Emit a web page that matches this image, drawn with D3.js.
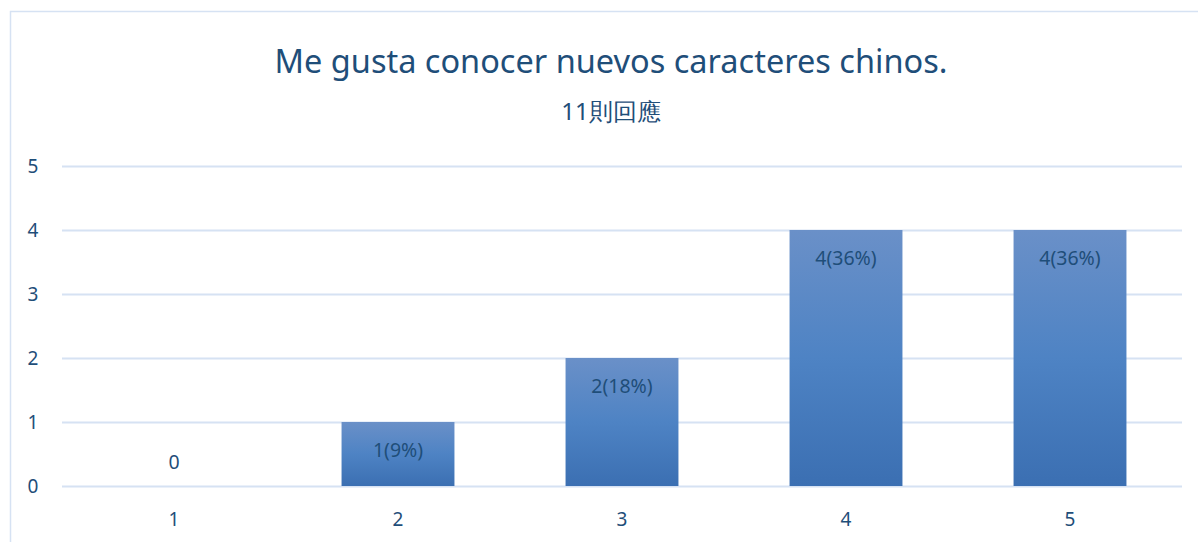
<!DOCTYPE html>
<html><head><meta charset="utf-8">
<script src="https://cdn.jsdelivr.net/npm/d3@7/dist/d3.min.js"></script>
<style>body{margin:0;background:#fff}svg{display:block}text{font-family:"Noto Sans","Open Sans",sans-serif}</style>
</head><body>
<svg id="c" width="1198" height="542"></svg>
<script>
const categories = ["1","2","3","4","5"];
const counts = [0,1,2,4,4];
const labels = ["0","1(9%)","2(18%)","4(36%)","4(36%)"];
const yTicks = [0,1,2,3,4,5];
const title = "Me gusta conocer nuevos caracteres chinos.";
const subtitle = "11則回應";

const svg = d3.select("#c");
const textColor = "#1f4e79";
const defs = svg.append("defs");
const g = defs.append("linearGradient").attr("id","bg").attr("x1",0).attr("y1",0).attr("x2",0).attr("y2",1);
g.append("stop").attr("offset","0%").attr("stop-color","#6a90c8");
g.append("stop").attr("offset","50%").attr("stop-color","#4e83c4");
g.append("stop").attr("offset","100%").attr("stop-color","#3b6fb2");

svg.append("path").attr("d","M10.5,542 V11.5 H1198").attr("fill","none").attr("stroke","#d6e2f3").attr("stroke-width",1.5);

const x = d3.scaleBand().domain(categories).range([62,1182]).paddingInner(0.496).paddingOuter(0.248);
const y = d3.scaleLinear().domain([0,5]).range([486,166]);

svg.append("text").attr("x",611).attr("y",73).attr("text-anchor","middle").attr("font-size",32.5).attr("fill",textColor).text(title);
svg.append("text").attr("x",611).attr("y",120).attr("text-anchor","middle").attr("font-size",24).attr("fill",textColor).text(subtitle);

svg.append("g").selectAll("line").data(yTicks).join("line")
  .attr("x1",62).attr("x2",1182).attr("y1",d=>y(d)+0.5).attr("y2",d=>y(d)+0.5)
  .attr("stroke","#d6e2f3").attr("stroke-width",2);

svg.append("g").selectAll("text").data(yTicks).join("text")
  .attr("x",33).attr("y",d=>y(d)+7).attr("text-anchor","middle").attr("font-size",19).attr("fill",textColor).text(d=>d);

svg.append("g").selectAll("rect").data(categories).join("rect")
  .attr("x",d=>x(d)).attr("width",x.bandwidth())
  .attr("y",(d,i)=>y(counts[i])).attr("height",(d,i)=>y(0)-y(counts[i]))
  .attr("fill","url(#bg)");

svg.append("g").selectAll("text").data(categories).join("text")
  .attr("x",d=>x(d)+x.bandwidth()/2)
  .attr("y",(d,i)=>counts[i]===0 ? y(0)-17 : y(counts[i])+35)
  .attr("text-anchor","middle").attr("font-size",19.5).attr("fill",textColor)
  .text((d,i)=>labels[i]);

svg.append("g").selectAll("text").data(categories).join("text")
  .attr("x",d=>x(d)+x.bandwidth()/2).attr("y",526).attr("text-anchor","middle").attr("font-size",19).attr("fill",textColor).text(d=>d);
</script>
</body></html>
